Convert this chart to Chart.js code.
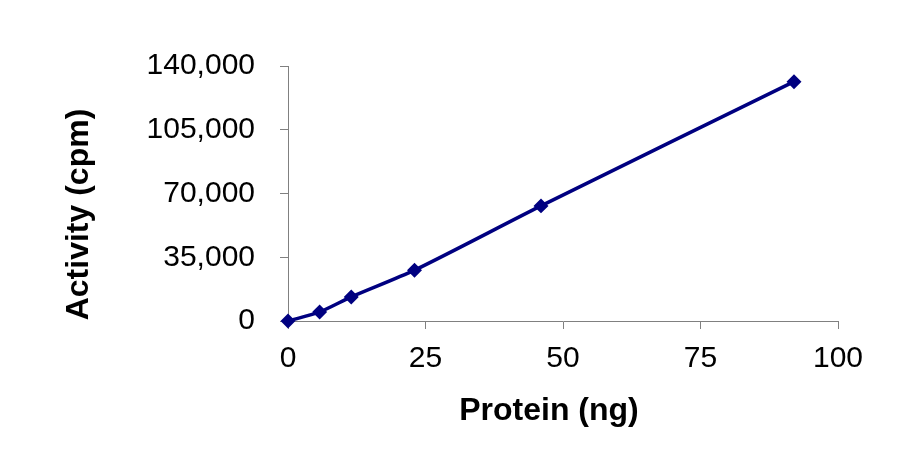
<!DOCTYPE html>
<html>
<head>
<meta charset="utf-8">
<script src="https://cdn.jsdelivr.net/npm/chart.js@4.4.1/dist/chart.umd.min.js"></script>
<style>
  html, body { margin: 0; padding: 0; background: #fff; }
</style>
</head>
<body>
<canvas id="activity-chart" width="906" height="462"></canvas>
<script>
const proteinNg = [0, 5.75, 11.5, 23, 46, 92];
const activityCpm = [0, 4950, 13200, 27900, 63200, 131400];
const xTicks = [0, 25, 50, 75, 100];
const yTicks = [0, 35000, 70000, 105000, 140000];
const xTitle = 'Protein (ng)';
const yTitle = 'Activity (cpm)';

const axisGrey = '#808080';
const fontFamily = '"Liberation Sans", Arial, sans-serif';

// axis titles sit a little off-centre in the original, so draw them ourselves
const axisTitles = {
	id: 'axisTitles',
	afterDraw(chart) {
		const c = chart.ctx;
		const area = chart.chartArea;
		c.save();
		c.fillStyle = '#000';
		c.font = 'bold 32px ' + fontFamily;
		c.textAlign = 'center';
		c.textBaseline = 'alphabetic';
		c.fillText(xTitle, (area.left + area.right) / 2 - 14, 420);
		c.translate(88, (area.top + area.bottom) / 2 + 21);
		c.rotate(-Math.PI / 2);
		c.fillText(yTitle, 0, 0);
		c.restore();
	}
};

const ctx = document.querySelector('#activity-chart');

new Chart(ctx, {
	type: 'scatter',
	data: {
		datasets: [
			{
				label: 'Activity',
				data: proteinNg.map((x, i) => ({ x: x, y: activityCpm[i] })),
				showLine: true,
				borderColor: '#000080',
				backgroundColor: '#000080',
				borderWidth: 3.5,
				pointStyle: 'rectRot',
				pointRadius: 5,
				pointHoverRadius: 5,
				tension: 0.25,
				clip: false
			}]
	},
	options: {
		responsive: false,
		maintainAspectRatio: false,
		devicePixelRatio: 1,
		animation: false,
		layout: {
			padding: { top: 66, right: 68, left: 0, bottom: 0 }
		},
		plugins: {
			legend: { display: false },
			tooltip: { enabled: false }
		},
		scales: {
			x: {
				type: 'linear',
				min: xTicks[0],
				max: xTicks[xTicks.length - 1],
				afterFit: (scale) => { scale.height = 141; },
				afterBuildTicks: (scale) => { scale.ticks = xTicks.map(v => ({ value: v })); },
				ticks: {
					color: '#000',
					padding: 12,
					maxRotation: 0,
					font: { family: fontFamily, size: 30 }
				},
				grid: {
					drawOnChartArea: false,
					drawTicks: true,
					tickLength: 8,
					color: axisGrey
				},
				border: { display: true, color: axisGrey, width: 1 }
			},
			y: {
				type: 'linear',
				min: yTicks[0],
				max: yTicks[yTicks.length - 1],
				afterFit: (scale) => { scale.width = 288; },
				afterBuildTicks: (scale) => { scale.ticks = yTicks.map(v => ({ value: v })); },
				ticks: {
					color: '#000',
					padding: 25,
					font: { family: fontFamily, size: 30 },
					callback: (v) => v.toLocaleString('en-US')
				},
				grid: {
					drawOnChartArea: false,
					drawTicks: true,
					tickLength: 8,
					color: axisGrey
				},
				border: { display: true, color: axisGrey, width: 1 }
			}
		}
	},
	plugins: [axisTitles]
});
</script>
</body>
</html>
